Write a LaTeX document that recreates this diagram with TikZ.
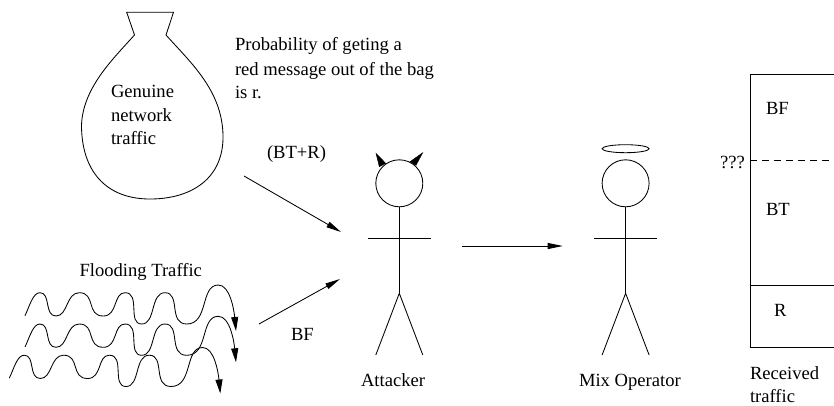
\documentclass[tikz,border=0pt]{standalone}
\usepackage{fontspec}
\setmainfont{Liberation Serif}
\usetikzlibrary{arrows.meta,shapes.geometric}
\tikzset{
  lbl/.style={anchor=base west,inner sep=0pt,outer sep=0pt,font=\fontsize{18.6}{22}\selectfont},
  ln/.style={line width=0.85pt,black},
  arr/.style={ln,-{Triangle[length=15pt,width=6pt]}},
  warr/.style={ln,-{Triangle[length=14pt,width=7pt]},line join=round},
  horn/.style={fill=black,draw=black,line width=0.4pt}
}
\newcommand{\stickman}[2]{%
  \node[draw,circle,ln,minimum size=47pt,inner sep=0pt] (#2head) at (#1,183.3) {};
  \coordinate (#2hip) at (#1,293.3);
  \coordinate (#2armL) at ([xshift=-31.2pt]#1,238.3);
  \coordinate (#2armR) at ([xshift=31.2pt]#1,238.3);
  \coordinate (#2legL) at ([xshift=-23.5pt]#1,355);
  \coordinate (#2legR) at ([xshift=23.5pt]#1,355);
  \draw[ln] (#2head.south) -- (#2hip);
  \draw[ln] (#2armL) -- (#2armR);
  \draw[ln] (#2legL) -- (#2hip) -- (#2legR);
}
\newcommand{\trafficwave}[2]{%
  \begin{scope}[shift={(#1,#2)}]
  \draw[warr] (25,315.7)
    .. controls (30,305) and (33,292.7) .. (40,292.7)
    .. controls (51,292.7) and (44,316) .. (56,316)
    .. controls (68,316) and (66,292.7) .. (79.3,292.7)
    .. controls (96,292.7) and (86,316) .. (103.3,316)
    .. controls (118,316) and (113,292.7) .. (125,292.7)
    .. controls (141,292.7) and (127,324) .. (141.7,324)
    .. controls (156,324) and (150,292.7) .. (165,292.7)
    .. controls (181,292.7) and (168,324) .. (186.7,324)
    .. controls (209,324) and (200,285) .. (218.3,285)
    .. controls (230,285) and (234,310) .. (236,331);
  \end{scope}
}
\begin{document}
\begin{tikzpicture}[x=1pt,y=-1pt]
\useasboundingbox (0,0) rectangle (834,405);
% bag
\draw[ln,line join=miter] (134.5,35) -- (126.7,12.3) -- (173.5,12.3) -- (166,35)
  .. controls (190,62) and (222,90) .. (223,135)
  .. controls (224,178) and (192,199) .. (150,199)
  .. controls (105,199) and (81.5,170) .. (81.5,125)
  .. controls (83,88) and (112,60) .. (134.5,35) -- cycle;
\node[lbl] (t1) at (111,97) {Genuine};
\node[lbl] (t2) at (111,121) {network};
\node[lbl] (t3) at (111,144) {traffic};
\node[lbl] (p1) at (235,50.7) {Probability of geting a};
\node[lbl] (p2) at (235,75) {red message out of the bag};
\node[lbl] (p3) at (235,98.3) {is r.};
\node[lbl] (btr) at (267,158) {(BT+R)};
\node[lbl] (ft) at (79.5,276.7) {Flooding Traffic};
\node[lbl] (bf1) at (291,340) {BF};
% waves
\trafficwave{0}{0}
\trafficwave{0}{31.3}
\trafficwave{-15.7}{62.5}
% figures
\stickman{399.3}{a}
\stickman{625.6}{m}
\draw[horn] (376,153.3) -- (385.7,163.3) -- (379.3,166.7) -- cycle;
\draw[horn] (422.7,152.7) -- (410,161.7) -- (416,165.3) -- cycle;
\node[draw,ellipse,ln,minimum width=47pt,minimum height=8pt,inner sep=0pt] (halo) at (625.6,148.7) {};
\node[lbl] (al) at (361,386.7) {Attacker};
\node[lbl] (ml) at (579,386.7) {Mix Operator};
% connectors
\coordinate (c1) at (244,176);
\coordinate (c2) at (341,232);
\coordinate (c3) at (259,324);
\coordinate (c4) at (340,279);
\coordinate (c5) at (462,246);
\coordinate (c6) at (562.7,246);
\draw[arr] (c1) -- (c2);
\draw[arr] (c3) -- (c4);
\draw[arr] (c5) -- (c6);
% received traffic box
\draw[ln] (834,74.7) -- (750.3,74.7) -- (750.3,347.3) -- (834,347.3);
\draw[ln] (750.3,285) -- (834,285);
\draw[ln,dash pattern=on 7pt off 5pt] (750.3,160) -- (834,160);
\node[lbl] (b1) at (766,114) {BF};
\node[lbl] (b2) at (766,215) {BT};
\node[lbl] (b3) at (774,316) {R};
\node[lbl] (q) at (720,168) {???};
\node[lbl] (r1) at (750,379) {Received};
\node[lbl] (r2) at (750,402) {traffic};
\end{tikzpicture}
\end{document}
